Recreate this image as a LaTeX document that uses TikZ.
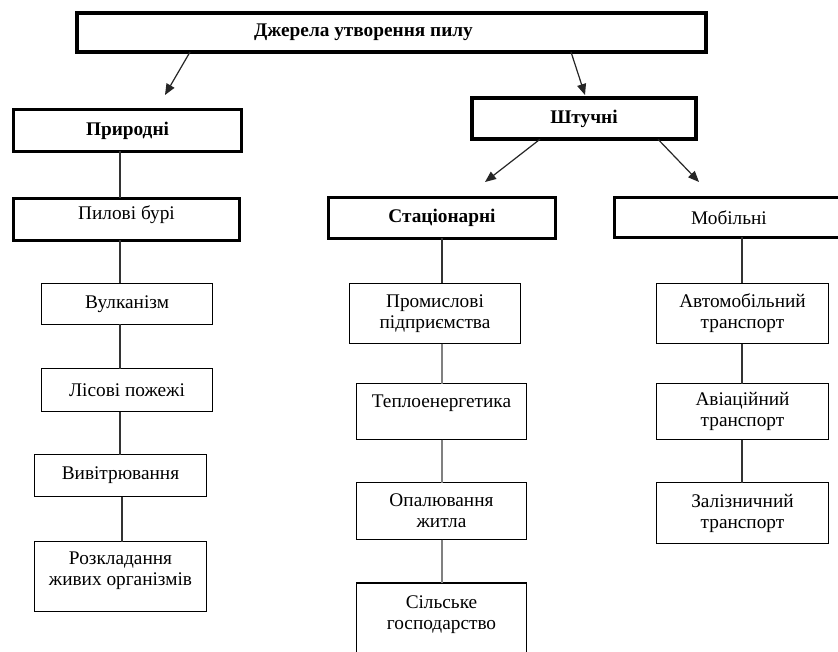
\documentclass[tikz,border=0pt]{standalone}
\usepackage{fontspec}
\setmainfont{Liberation Serif}
\usetikzlibrary{arrows.meta}
\begin{document}
\begin{tikzpicture}[x=1pt,y=-1pt,
  txt/.style={font=\fontsize{19.3}{21}\selectfont},
  frame/.style={draw=black, rectangle, inner sep=0pt, outer sep=0pt, align=center, txt},
  heavybox/.style={frame, line width=3.3pt},
  boldbox/.style={heavybox, font=\bfseries\fontsize{19.3}{21}\selectfont},
  thinbox/.style={frame, line width=1.2pt},
  link/.style={draw=black!80, line width=1.2pt},
  greylink/.style={draw=black!50, line width=1.3pt},
  arr/.style={draw=black!85, line width=1.2pt, -{Triangle[length=11pt,width=9pt]}}
]
\fill[white] (0,0) rectangle (838,652);
\useasboundingbox (0,0) rectangle (838,652);

% column axes for the vertical connectors
\coordinate (colA) at (120,0);
\coordinate (colA2) at (122,0);
\coordinate (colB) at (442,0);
\coordinate (colC) at (742,0);

% root
\node[boldbox, line width=3.6pt, minimum width=629, minimum height=39, align=none] (src) at (391.5,32.5)
  {\hspace*{-56pt}Джерела утворення пилу};

% second level
\node[boldbox, minimum width=228, minimum height=42] (nat) at (127.5,130.5) {Природні};
\node[boldbox, line width=3.6pt, minimum width=224.5, minimum height=41.5] (art) at (584,118.5) {Штучні};

% third level
\node[heavybox, minimum width=226, minimum height=42, text depth=13pt] (storm) at (126.5,219.5) {Пилові бурі};
\node[boldbox, minimum width=227, minimum height=41] (stat) at (442,218) {Стаціонарні};
\node[heavybox, minimum width=229, minimum height=40] (mob) at (729,217.5) {Мобільні};

% natural sources
\node[thinbox, minimum width=171, minimum height=41] (volc) at (127,304) {Вулканізм};
\node[thinbox, minimum width=171, minimum height=43] (fire) at (127,390) {Лісові пожежі};
\node[thinbox, minimum width=172, minimum height=42] (weath) at (120.5,475.5) {Вивітрювання};
\node[thinbox, minimum width=172, minimum height=70, text depth=16pt] (decay) at (120.5,576.5)
  {Розкладання\\живих організмів};

% stationary sources
\node[thinbox, minimum width=171, minimum height=60] (ind) at (435,313.5) {Промислові\\підприємства};
\node[thinbox, minimum width=170, minimum height=56] (heat) at (441.5,411.5) {Теплоенергетика\\~};
\node[thinbox, minimum width=170, minimum height=57] (home) at (441.5,511) {Опалювання\\житла};
\node[thinbox, minimum width=170, minimum height=80] (agri) at (441.5,623) {Сільське\\господарство\\~};

% mobile sources
\node[thinbox, minimum width=172, minimum height=60] (car) at (742.5,313.5) {Автомобільний\\транспорт};
\node[thinbox, minimum width=172, minimum height=56] (air) at (742.5,411.5) {Авіаційний\\транспорт};
\node[thinbox, minimum width=172, minimum height=61] (rail) at (742.5,513) {Залізничний\\транспорт};

% arrow tips
\coordinate (tipNat) at (165,95);
\coordinate (tipArt) at (585,95);
\coordinate (tipStat) at (485,182);
\coordinate (tipMob) at (699,182);

% arrows
\draw[arr] ([xshift=-201.5pt]src.south) -- (tipNat);
\draw[arr] ([xshift=179.5pt]src.south) -- (tipArt);
\draw[arr] ([xshift=-44pt]art.south) -- (tipStat);
\draw[arr] ([xshift=74pt]art.south) -- (tipMob);

% natural column
\draw[link] (nat.south -| colA) -- (storm.north -| colA);
\draw[link] (storm.south -| colA) -- (volc.north -| colA);
\draw[link] (volc.south -| colA) -- (fire.north -| colA);
\draw[link] (fire.south -| colA) -- (weath.north -| colA);
\draw[link] (weath.south -| colA2) -- (decay.north -| colA2);

% stationary column
\draw[link] (stat.south -| colB) -- (ind.north -| colB);
\draw[greylink] (ind.south -| colB) -- (heat.north -| colB);
\draw[greylink] (heat.south -| colB) -- (home.north -| colB);
\draw[greylink] (home.south -| colB) -- (agri.north -| colB);

% mobile column
\draw[link] (mob.south -| colC) -- (car.north -| colC);
\draw[link] (car.south -| colC) -- (air.north -| colC);
\draw[link] (air.south -| colC) -- (rail.north -| colC);
\end{tikzpicture}
\end{document}
